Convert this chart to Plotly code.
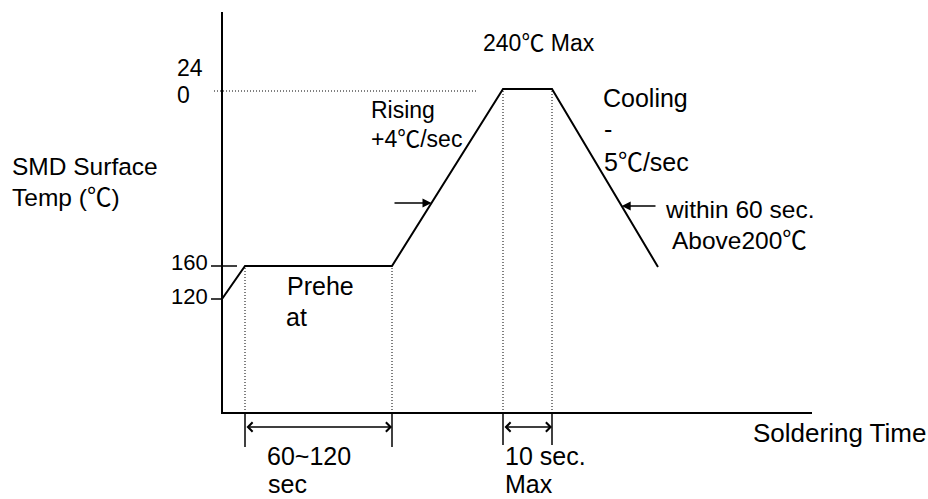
import numpy as np
import plotly.graph_objects as go

# ---------------- data (schematic reflow profile, diagram units) ----------------
profile_t = [0, 23, 170, 281, 330, 436]          # time positions (schematic)
profile_T = [114, 147, 147, 324, 324, 146]       # temperature level (schematic)
tick_levels = [114, 147]
tick_labels = ["120", "160"]
peak_level = 324
axis_t_end = 590
axis_T_top = 401
preheat_span = [23, 170]
peak_span = [281, 330]

FONT = "Liberation Sans, Arial, Noto Sans CJK SC"
DEG = '<span style="font-family:Noto Sans CJK SC">℃</span>'
BLACK = "#000000"

fig = go.Figure()

# axes (drawn lines)
fig.add_trace(go.Scatter(x=[0, 0, axis_t_end], y=[axis_T_top, 0, 0], mode="lines",
                         line=dict(color=BLACK, width=2), hoverinfo="skip"))

# profile
fig.add_trace(go.Scatter(x=profile_t, y=profile_T, mode="lines",
                         line=dict(color=BLACK, width=2), hoverinfo="skip"))

# tick marks for 120 / 160
fig.add_trace(go.Scatter(x=[-11, 0], y=[tick_levels[0]] * 2, mode="lines",
                         line=dict(color=BLACK, width=1.5), hoverinfo="skip"))
fig.add_trace(go.Scatter(x=[-11, 15], y=[tick_levels[1]] * 2, mode="lines",
                         line=dict(color=BLACK, width=1.5), hoverinfo="skip"))

# dotted guides
dot = dict(color=BLACK, width=1, dash="1px,2px")
fig.add_trace(go.Scatter(x=[-8, 256], y=[peak_level - 2, peak_level - 2], mode="lines", line=dot, hoverinfo="skip"))
for xv, top in [(preheat_span[0], profile_T[1]), (preheat_span[1], profile_T[2]),
                (peak_span[0], profile_T[3]), (peak_span[1], profile_T[4])]:
    fig.add_trace(go.Scatter(x=[xv, xv], y=[0, top], mode="lines", line=dot, hoverinfo="skip"))

# dimension extension lines
for xv, bot in [(preheat_span[0], -34), (preheat_span[1], -34), (peak_span[0], -32), (peak_span[1], -32)]:
    fig.add_trace(go.Scatter(x=[xv, xv], y=[0, bot], mode="lines",
                             line=dict(color=BLACK, width=1.5), hoverinfo="skip"))

ann = []

def txt(s, x, y, size=25, xanchor="left"):
    ann.append(dict(text=s, x=x, y=y, xref="x", yref="y", showarrow=False,
                    xanchor=xanchor, yanchor="middle",
                    font=dict(family=FONT, size=size, color=BLACK)))

def arrow(x0, y0, x1, y1, head=2, both=False, size=1):
    ann.append(dict(text="", x=x1, y=y1, ax=x0, ay=y0, xref="x", yref="y",
                    axref="x", ayref="y", showarrow=True, arrowhead=head,
                    startarrowhead=head, arrowside="end+start" if both else "end",
                    arrowsize=size, startarrowsize=size,
                    arrowwidth=1.5, arrowcolor=BLACK, standoff=0, startstandoff=0))

# pointer arrows onto rising / cooling ramps
y_r = 210
x_r = float(np.interp(y_r, [profile_T[2], profile_T[3]], [profile_t[2], profile_t[3]]))
arrow(profile_t[2] + 1, y_r, x_r, y_r, head=2, size=1.2)
y_c = 207
x_c = float(np.interp(y_c, [profile_T[5], profile_T[4]], [profile_t[5], profile_t[4]]))
arrow(profile_t[5] - 1, y_c, x_c, y_c, head=2, size=1.2)

# dimension arrows
arrow(preheat_span[0], -14, preheat_span[1], -14, head=4, both=True, size=1.2)
arrow(peak_span[0], -14, peak_span[1], -14, head=4, both=True, size=1.2)

# labels
txt("SMD Surface", -212, 247, 24.5)
txt("Temp (" + DEG + ")", -212, 218, 24.5)
txt("24", -47, 345, 23)
txt("0", -47, 318, 23)
txt(tick_labels[1], -12, 151, 22, "right")
txt(tick_labels[0], -12, 117, 22, "right")
txt("Prehe", 63, 127)
txt("at", 62, 96)
txt("60~120", 43, -43)
txt("sec", 44, -71)
txt("Rising", 147, 303, 23)
txt("+4" + DEG + "/sec", 147, 276, 23)
txt("240" + DEG + " Max", 259, 372, 23)
txt("Cooling", 379, 315)
txt("-", 380, 284)
txt("5" + DEG + "/sec", 380, 253)
txt("within 60 sec.", 441, 204, 24.5)
txt("Above200" + DEG, 448, 175, 24.5)
txt("Soldering Time", 529, -20, 26)
txt("10 sec.", 281, -43)
txt("Max", 281, -71)

fig.update_layout(
    width=928, height=499,
    margin=dict(l=0, r=0, t=0, b=0),
    paper_bgcolor="white", plot_bgcolor="white",
    showlegend=False,
    xaxis=dict(range=[-222, 706], visible=False, fixedrange=True),
    yaxis=dict(range=[-86, 413], visible=False, fixedrange=True),
    annotations=ann,
)

fig.write_html("out.html", config={"displayModeBar": False},
               post_script="document.body.style.margin='0';document.body.style.overflow='hidden';")
